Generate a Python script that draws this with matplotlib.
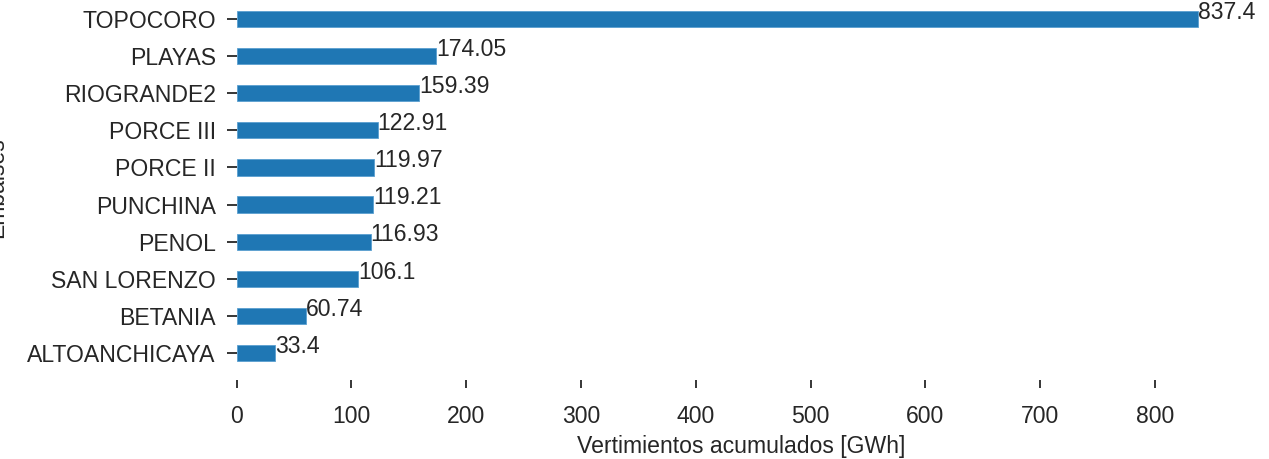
import matplotlib
matplotlib.use("Agg")
import matplotlib.pyplot as plt
import numpy as np

embalses = ["TOPOCORO", "PLAYAS", "RIOGRANDE2", "PORCE III", "PORCE II",
            "PUNCHINA", "PENOL", "SAN LORENZO", "BETANIA", "ALTOANCHICAYA"]
vertimientos = [837.4, 174.05, 159.39, 122.91, 119.97, 119.21, 116.93, 106.1, 60.74, 33.4]
xticks = [0, 100, 200, 300, 400, 500, 600, 700, 800]

plt.rcParams['font.family'] = ['Liberation Sans', 'DejaVu Sans']
txt = '#262626'
fs = 16.6

fig = plt.figure(figsize=(12.69, 4.59), dpi=100)
W, H = 1269, 459
left, right = 236.5 / W, 1246 / W
top_px, bot_px = -6.7, 378.7
ax = fig.add_axes([left, 1 - bot_px / H, right - left, (bot_px - top_px) / H])

y = np.arange(len(embalses))
ax.barh(y, vertimientos, height=0.44, color='#1f77b4', edgecolor='#5a9fd0', linewidth=0.6)
ax.invert_yaxis()
ax.set_yticks(y)
ax.set_yticklabels(embalses)
ax.set_xticks(xticks)
ax.set_xlim(0, 879.27)

for i, v in enumerate(vertimientos):
    ax.text(v, i - 0.18, str(v), va='center', ha='left', fontsize=fs, color=txt)

for s in ax.spines.values():
    s.set_visible(False)
ax.spines['bottom'].set_position(('outward', 1))

ax.tick_params(axis='y', length=7, width=1.3, pad=8, labelsize=fs, colors=txt)
ax.tick_params(axis='x', length=6, width=1.3, pad=12, labelsize=fs, colors=txt)

ax.set_xlabel("Vertimientos acumulados [GWh]", fontsize=fs, color=txt, labelpad=5)
fig.text(8 / W, 1 - 188 / H, "Embalses", rotation=90, ha='right', va='center',
         fontsize=fs, color=txt)

fig.savefig("out.png", dpi=100)
